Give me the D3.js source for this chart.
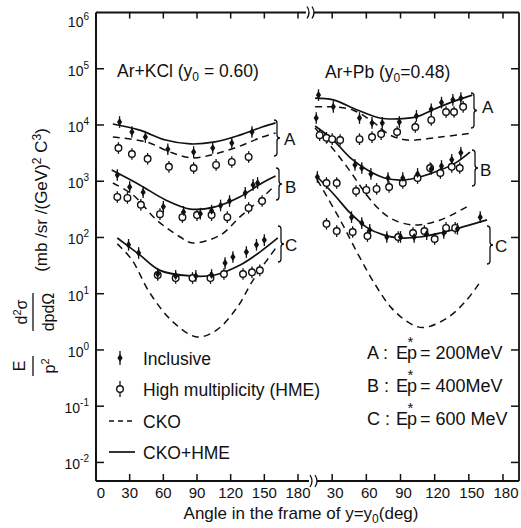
<!DOCTYPE html>
<html>
<head>
<meta charset="utf-8">
<script src="https://d3js.org/d3.v7.min.js"></script>
<style>
    body { margin: 0; background: #fff; }
    svg { font-family: "Liberation Sans", Arial, sans-serif; }
</style>
</head>
<body>
<svg id="chart" width="521" height="528"></svg>
<script>
// tick labels
const angleTicks = [30, 60, 90, 120, 150, 180];
const decadeExps = [-2, -1, 0, 1, 2, 3, 4, 5, 6];

// Ar+KCl, [angle (deg), E/p^2 d2s/dpdO]
const kclIncA = [[21, 1.13e4], [32, 7.5e3], [44, 6.1e3], [64, 3.7e3], [87, 3.3e3], [104, 3.9e3], [121, 4.8e3], [139, 7.5e3]];
const kclHmeA = [[20, 3.9e3], [32, 3.05e3], [46, 2.5e3], [65, 1.8e3], [87, 1.72e3], [107, 1.95e3], [121, 2.2e3], [136, 2.7e3]];
const kclCkoA = [[15, 6.1e3], [45, 5.0e3], [66, 3.3e3], [86, 2.6e3], [106, 3.05e3], [128, 4.2e3], [148, 6.1e3], [160, 7.2e3]];
const kclFitA = [[15, 1.04e4], [39, 8.1e3], [62, 5.4e3], [84, 4.6e3], [106, 5.0e3], [128, 6.6e3], [148, 9.2e3], [160, 1.09e4]];

const kclIncB = [[19, 1.29e3], [30, 790], [42, 640], [60, 350], [78, 285], [93, 265], [103, 300], [111, 370], [119, 445], [133, 620], [140, 860], [144, 930]];
const kclHmeB = [[19, 525], [28, 505], [40, 380], [57, 260], [77, 230], [90, 250], [103, 250], [117, 230], [136, 335], [148, 445]];
const kclCkoB = [[15, 930], [33, 570], [54, 205], [75, 102], [86, 80], [111, 111], [128, 230], [146, 465], [158, 790]];
const kclFitB = [[14, 1.58e3], [39, 860], [62, 465], [84, 320], [106, 350], [128, 525], [148, 930], [160, 1.24e3]];

const kclIncC = [[29, 74], [38, 53], [55, 22.4], [71, 20.7], [89, 20.7], [103, 21.5], [115, 35], [122, 45], [134, 55], [143, 74], [150, 90]];
const kclHmeC = [[55, 21.5], [71, 19], [86, 19], [102, 19], [114, 22.4], [131, 22.4], [139, 24], [146, 26]];
const kclCkoC = [[19, 77], [32, 40], [48, 10.3], [69, 3.1], [90, 1.7], [108, 2.3], [126, 5.8], [140, 17.5], [161, 68]];
const kclFitC = [[19, 98], [39, 49], [57, 26], [84, 20.7], [106, 21.5], [128, 32], [146, 55], [162, 98]];

// Ar+Pb
const pbIncA = [[18, 3.4e4], [31, 2.1e4], [54, 1.33e4], [65, 1.09e4], [74, 1.09e4], [89, 1.13e4], [104, 1.45e4], [117, 1.9e4], [126, 2.5e4], [136, 2.8e4], [143, 3.0e4]];
const pbHmeA = [[19, 6.6e3], [25, 5.9e3], [30, 5.6e3], [37, 5.4e3], [54, 5.6e3], [65, 6.1e3], [73, 6.9e3], [87, 7.5e3], [103, 9.2e3], [117, 1.23e4], [130, 1.7e4], [137, 1.7e4], [145, 2.1e4]];
const pbCkoA = [[15, 2.1e4], [31, 2.1e4], [48, 1.85e4], [66, 1.13e4], [81, 6.6e3], [96, 5.4e3], [125, 6.1e3], [153, 7.2e3]];
const pbFitA = [[15, 3.0e4], [31, 2.8e4], [52, 1.85e4], [72, 1.33e4], [87, 1.28e4], [104, 1.39e4], [118, 1.85e4], [136, 2.6e4], [153, 3.4e4]];

const pbIncB = [[16, 1.33e4], [50, 1.95e3], [56, 1.72e3], [64, 1.35e3], [79, 1.14e3], [92, 1.14e3], [105, 1.35e3], [117, 1.65e3], [126, 1.87e3], [135, 2.4e3], [143, 3.2e3]];
const pbHmeB = [[25, 930], [34, 930], [51, 670], [60, 700], [69, 730], [80, 790], [92, 930], [105, 1.14e3], [116, 1.72e3], [125, 1.4e3], [135, 1.8e3], [142, 1.72e3]];
const pbCkoB = [[15, 8.8e3], [28, 4.4e3], [43, 1.8e3], [66, 410], [81, 222], [101, 167], [125, 205], [151, 380]];
const pbFitB = [[15, 9.6e3], [31, 5.4e3], [46, 2.6e3], [61, 1.58e3], [76, 1.14e3], [92, 1.05e3], [107, 1.19e3], [125, 1.58e3], [138, 2.1e3], [151, 3.3e3]];

const pbIncC = [[17, 1.19e3], [47, 230], [56, 180], [63, 136], [78, 102], [90, 102], [102, 102], [113, 115], [128, 120], [140, 142], [160, 230]];
const pbHmeC = [[25, 175], [34, 130], [48, 125], [61, 106], [88, 102], [101, 120], [111, 130], [120, 94], [130, 148], [138, 148]];
const pbCkoC = [[17, 1.05e3], [37, 205], [54, 45], [68, 14.3], [82, 5.6], [98, 3.0], [110, 2.5], [131, 3.7], [148, 7.7], [160, 16.2]];
const pbFitC = [[17, 1.19e3], [32, 570], [46, 270], [61, 148], [75, 111], [89, 98], [107, 102], [125, 120], [142, 148], [166, 205]];

const errFactor = 1.27;

const y = d3.scaleLog().domain([Math.pow(10, -2.33), 1e6]).range([481, 12.5]);
const xKcl = d3.scaleLinear().domain([0, 180]).range([96, 298]);
const xPb = d3.scaleLinear().domain([0, 180]).range([298, 503]);

const svg = d3.select('#chart');

const panels = [
    { x: xKcl, sets: [
        { inc: kclIncA, hme: kclHmeA, cko: kclCkoA, fit: kclFitA },
        { inc: kclIncB, hme: kclHmeB, cko: kclCkoB, fit: kclFitB },
        { inc: kclIncC, hme: kclHmeC, cko: kclCkoC, fit: kclFitC }
    ] },
    { x: xPb, sets: [
        { inc: pbIncA, hme: pbHmeA, cko: pbCkoA, fit: pbFitA },
        { inc: pbIncB, hme: pbHmeB, cko: pbCkoB, fit: pbFitB },
        { inc: pbIncC, hme: pbHmeC, cko: pbCkoC, fit: pbFitC }
    ] }
];

drawFrame();
panels.forEach(drawPanel);
drawLabels();
drawLegend();

function diamond(cx, cy) {
    return `M${cx},${cy - 4}L${cx + 2.6},${cy}L${cx},${cy + 4}L${cx - 2.6},${cy}Z`;
}

function brace(x, y0, y1, w) {
    const m = (y0 + y1) / 2, h = w / 2;
    return `M${x},${y0} Q${x + h},${y0} ${x + h},${y0 + h} L${x + h},${m - h} Q${x + h},${m} ${x + w},${m} ` +
        `Q${x + h},${m} ${x + h},${m + h} L${x + h},${y1 - h} Q${x + h},${y1} ${x},${y1}`;
}

function drawFrame() {
    const g = svg.append('g').attr('stroke', '#111').attr('fill', 'none');
    const top = y.range()[1], bottom = y.range()[0];
    g.append('line').attr('x1', 96).attr('x2', 96).attr('y1', top).attr('y2', bottom).attr('stroke-width', 2);
    g.append('line').attr('x1', 519).attr('x2', 519).attr('y1', top).attr('y2', bottom).attr('stroke-width', 1.8);
    [[top, 306, 314], [bottom, 309, 317]].forEach(([yy, a, b]) => {
        g.append('line').attr('x1', 96).attr('x2', a).attr('y1', yy).attr('y2', yy).attr('stroke-width', 1.8);
        g.append('line').attr('x1', b).attr('x2', 519).attr('y1', yy).attr('y2', yy).attr('stroke-width', 1.8);
        [a + 1, b - 2].forEach(bx => {
            g.append('path').attr('d', `M${bx},${yy - 6} Q${bx + 4},${yy} ${bx},${yy + 6}`).attr('stroke-width', 1.3);
        });
    });

    // decade ticks, both sides
    decadeExps.filter(e => e < 6).forEach(e => {
        const yy = y(Math.pow(10, e));
        g.append('line').attr('x1', 96).attr('x2', 104).attr('y1', yy).attr('y2', yy).attr('stroke-width', 1.5);
        g.append('line').attr('x1', 519).attr('x2', 511).attr('y1', yy).attr('y2', yy).attr('stroke-width', 1.5);
    });
    // angle ticks, top and bottom
    [xKcl, xPb].forEach(x => {
        angleTicks.forEach(t => {
            g.append('line').attr('x1', x(t)).attr('x2', x(t)).attr('y1', bottom).attr('y2', bottom - 7).attr('stroke-width', 1.5);
            g.append('line').attr('x1', x(t)).attr('x2', x(t)).attr('y1', top).attr('y2', top + 6).attr('stroke-width', 1.5);
        });
    });

    // y tick labels
    const yl = svg.append('g').attr('fill', '#111').attr('font-size', 14);
    decadeExps.forEach(e => {
        const yy = y(Math.pow(10, e)) + (e === 6 ? 14 : 7);
        const t = yl.append('text').attr('x', 89).attr('y', yy).attr('text-anchor', 'end');
        t.append('tspan').text('10');
        t.append('tspan').attr('dy', -7).attr('font-size', 10).text(e);
    });

    // x tick labels
    const xl = svg.append('g').attr('fill', '#111').attr('font-size', 15).attr('text-anchor', 'middle');
    xl.append('text').attr('x', xKcl(0) + 5).attr('y', 498).text('0');
    angleTicks.forEach(t => xl.append('text').attr('x', xKcl(t)).attr('y', 498).text(t));
    angleTicks.forEach(t => xl.append('text').attr('x', xPb(t) + 3).attr('y', 498).text(t));
}

function drawPanel(panel) {
    const x = panel.x;
    const line = d3.line().x(d => x(d[0])).y(d => y(d[1])).curve(d3.curveCatmullRom.alpha(0.5));
    const g = svg.append('g');

    panel.sets.forEach(s => {
        g.append('path').attr('d', line(s.cko)).attr('fill', 'none')
            .attr('stroke', '#111').attr('stroke-width', 1.5).attr('stroke-dasharray', '7,5');
        g.append('path').attr('d', line(s.fit)).attr('fill', 'none')
            .attr('stroke', '#111').attr('stroke-width', 1.7);
    });

    panel.sets.forEach(s => {
        s.inc.concat(s.hme).forEach(d => {
            g.append('line').attr('x1', x(d[0])).attr('x2', x(d[0]))
                .attr('y1', y(d[1] * errFactor)).attr('y2', y(d[1] / errFactor))
                .attr('stroke', '#111').attr('stroke-width', 1.3);
        });
        g.selectAll(null).data(s.hme).enter().append('circle')
            .attr('cx', d => x(d[0])).attr('cy', d => y(d[1])).attr('r', 3.3)
            .attr('fill', '#fff').attr('stroke', '#111').attr('stroke-width', 1.4);
        g.selectAll(null).data(s.inc).enter().append('path')
            .attr('d', d => diamond(x(d[0]), y(d[1]))).attr('fill', '#111');
    });
}

function drawLabels() {
    const g = svg.append('g').attr('fill', '#111');

    const t1 = g.append('text').attr('x', 117).attr('y', 77).attr('font-size', 17.5);
    t1.append('tspan').text('Ar+KCl (y');
    t1.append('tspan').attr('font-size', 12).attr('dy', 4).text('0');
    t1.append('tspan').attr('dy', -4).text(' = 0.60)');

    const t2 = g.append('text').attr('x', 325).attr('y', 78).attr('font-size', 17.5);
    t2.append('tspan').text('Ar+Pb (y');
    t2.append('tspan').attr('font-size', 12).attr('dy', 4).text('0');
    t2.append('tspan').attr('dy', -4).text('=0.48)');

    // braces with group names
    const braces = [
        [274, 120, 156, 'A', 284, 145], [276, 168, 200, 'B', 285, 193], [278, 226, 262, 'C', 285, 251],
        [471, 93, 128, 'A', 482, 113], [472, 150, 186, 'B', 480, 176], [487, 226, 264, 'C', 495, 252]
    ];
    braces.forEach(([bx, b0, b1, name, tx, ty]) => {
        g.append('path').attr('d', brace(bx, b0, b1, 6)).attr('fill', 'none').attr('stroke', '#111').attr('stroke-width', 1.3);
        g.append('text').attr('x', tx).attr('y', ty).attr('font-size', 17).text(name);
    });

    // x axis title
    const xt = g.append('text').attr('x', 301).attr('y', 519).attr('font-size', 17).attr('text-anchor', 'middle');
    xt.append('tspan').text('Angle in the frame of y=y');
    xt.append('tspan').attr('font-size', 12).attr('dy', 4).text('0');
    xt.append('tspan').attr('dy', -4).text('(deg)');

    // y axis title, rotated: x = -screenY, y = screenX
    const yt = g.append('g').attr('transform', 'rotate(-90)').attr('font-size', 16).attr('text-anchor', 'middle');
    const units = yt.append('text').attr('x', -200).attr('y', 47).attr('font-size', 17);
    units.append('tspan').text('(mb /sr /(GeV)');
    units.append('tspan').attr('dy', -6).attr('font-size', 12).text('2');
    units.append('tspan').attr('dy', 6).text(' C');
    units.append('tspan').attr('dy', -6).attr('font-size', 12).text('3');
    units.append('tspan').attr('dy', 6).text(')');

    const num = yt.append('text').attr('x', -312).attr('y', 27);
    num.append('tspan').text('d');
    num.append('tspan').attr('dy', -6).attr('font-size', 11).text('2');
    num.append('tspan').attr('dy', 6).text('σ');
    yt.append('line').attr('x1', -331).attr('x2', -293).attr('y1', 33).attr('y2', 33).attr('stroke', '#111').attr('stroke-width', 1.3);
    yt.append('text').attr('x', -312).attr('y', 54).text('dpdΩ');

    yt.append('text').attr('x', -366).attr('y', 25).text('E');
    yt.append('line').attr('x1', -376).attr('x2', -356).attr('y1', 33).attr('y2', 33).attr('stroke', '#111').attr('stroke-width', 1.3);
    const den = yt.append('text').attr('x', -366).attr('y', 55);
    den.append('tspan').text('p');
    den.append('tspan').attr('dy', -6).attr('font-size', 11).text('2');
}

function drawLegend() {
    const g = svg.append('g').attr('fill', '#111');
    const rows = [358, 389, 421, 452];

    g.append('line').attr('x1', 120).attr('x2', 120).attr('y1', rows[0] - 7).attr('y2', rows[0] + 7).attr('stroke', '#111').attr('stroke-width', 1.3);
    g.append('path').attr('d', diamond(120, rows[0]));
    g.append('line').attr('x1', 120).attr('x2', 120).attr('y1', rows[1] - 8).attr('y2', rows[1] + 8).attr('stroke', '#111').attr('stroke-width', 1.3);
    g.append('circle').attr('cx', 120).attr('cy', rows[1]).attr('r', 3.3).attr('fill', '#fff').attr('stroke', '#111').attr('stroke-width', 1.4);
    g.append('line').attr('x1', 109).attr('x2', 134).attr('y1', rows[2]).attr('y2', rows[2])
        .attr('stroke', '#111').attr('stroke-width', 1.5).attr('stroke-dasharray', '5,4');
    g.append('line').attr('x1', 109).attr('x2', 135).attr('y1', rows[3]).attr('y2', rows[3])
        .attr('stroke', '#111').attr('stroke-width', 1.7);

    const labels = ['Inclusive', 'High multiplicity (HME)', 'CKO', 'CKO+HME'];
    labels.forEach((l, i) => {
        g.append('text').attr('x', 143).attr('y', rows[i] + 7).attr('font-size', 17.5).text(l);
    });

    // one text per line: "A :  E p* = 200MeV", asterisk raised over the p
    const energies = [['A', '= 200MeV', 359], ['B', '= 400MeV', 392], ['C', '= 600 MeV', 425]];
    energies.forEach(([name, val, base]) => {
        const t = g.append('text').attr('y', base).attr('font-size', 18);
        t.append('tspan').attr('x', 367).text(name + ' :');
        t.append('tspan').attr('x', 396).text('E');
        t.append('tspan').attr('x', 407).text('p');
        t.append('tspan').attr('x', 407.5).attr('dy', -12).attr('font-size', 15).text('*');
        t.append('tspan').attr('x', 420).attr('dy', 12).text(val);
    });
}
</script>
</body>
</html>
